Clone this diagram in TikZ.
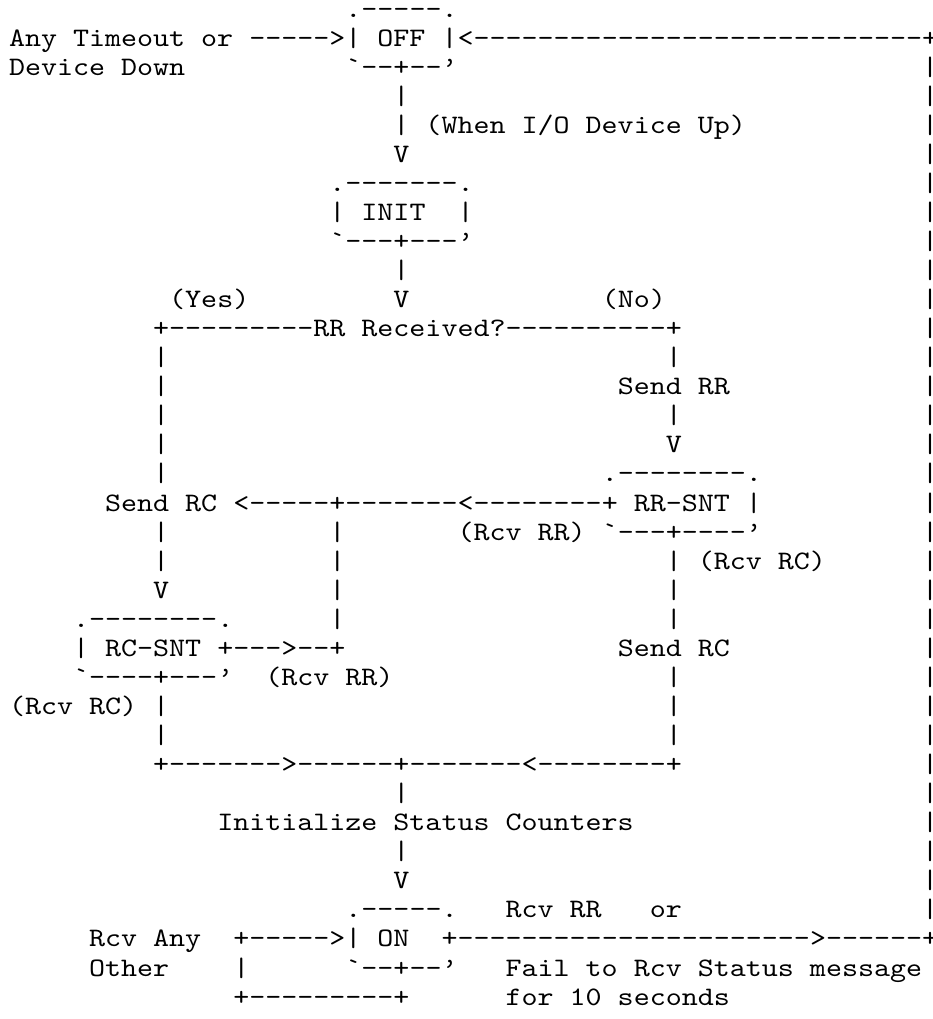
\documentclass[tikz,border=0pt]{standalone}
\usepackage{fontspec}
\usepackage{tikz}
\setmonofont{lmmono10-regular.otf}[FakeStretch=1.1443]

\begin{document}
\begin{tikzpicture}[x=12.015pt, y=-21.795pt,
  every node/.style={anchor=base west, inner sep=0pt, outer sep=0pt,
    font=\ttfamily\fontsize{20pt}{20pt}\selectfont}]
  \useasboundingbox (-0.5618,-0.585) rectangle (57.6155,34.48);
  % state OFF
  \node (offtop)   at (21,0)  {.-----.};
  \node (anytime)  at (0,1)   {Any Timeout or};
  \node (anyarrow) at (15,1)  {----->};
  \node (off)      at (21,1)  {| OFF |};
  \node (offret)   at (28,1)  {<{----------}{----------}{--------}+};
  \node (devdown)  at (0,2)   {Device Down};
  \node (offbot)   at (21,2)  {`--+--’};
  \node (offl1)    at (24,3)  {|};
  \node (offl2)    at (24,4)  {| (When I/O Device Up)};
  \node (offv)     at (24,5)  {V};
  % state INIT
  \node (inittop)  at (20,6)  {.-------.};
  \node (initl)    at (20,7)  {|};
  \node (init)     at (22,7)  {INIT};
  \node (initr)    at (28,7)  {|};
  \node (initbot)  at (20,8)  {`---+---’};
  \node (initl1)   at (24,9)  {|};
  \node (initv)    at (24,10) {V};
  \node (yes)      at (10,10) {(Yes)};
  \node (no)       at (37,10) {(No)};
  \node (rrq)      at (9,11)  {+---------RR Received?----------+};
  % branche Yes
  \node (y12)      at (9,12)  {|};
  \node (y13)      at (9,13)  {|};
  \node (y14)      at (9,14)  {|};
  \node (y15)      at (9,15)  {|};
  \node (y16)      at (9,16)  {|};
  \node (sendrc)   at (6,17)  {Send RC};
  \node (y18)      at (9,18)  {|};
  \node (y19)      at (9,19)  {|};
  \node (yv)       at (9,20)  {V};
  % branche No
  \node (n12)      at (41,12) {|};
  \node (sendrr)   at (38,13) {Send RR};
  \node (n14)      at (41,14) {|};
  \node (nv)       at (41,15) {V};
  % state RR-SNT
  \node (rrsnttop) at (37,16) {.--------.};
  \node (rrback)   at (14,17) {<-----+-------<--------+};
  \node (rrsnt)    at (39,17) {RR-SNT};
  \node (rrsntr)   at (46,17) {|};
  \node (rcvrr1)   at (28,18) {(Rcv RR)};
  \node (rrsntbot) at (37,18) {`---+----’};
  \node (n19)      at (41,19) {|};
  \node (rcvrc1)   at (43,19) {(Rcv RC)};
  \node (n20)      at (41,20) {|};
  \node (n21)      at (41,21) {|};
  \node (sendrc2)  at (38,22) {Send RC};
  \node (n23)      at (41,23) {|};
  \node (n24)      at (41,24) {|};
  \node (n25)      at (41,25) {|};
  % middle line
  \node (m18)      at (20,18) {|};
  \node (m19)      at (20,19) {|};
  \node (m20)      at (20,20) {|};
  \node (m21)      at (20,21) {|};
  % state RC-SNT
  \node (rcsnttop) at (4,21)  {.--------.};
  \node (rcsntl)   at (4,22)  {|};
  \node (rcsnt)    at (6,22)  {RC-SNT};
  \node (rcsntout) at (13,22) {+--->--+};
  \node (rcsntbot) at (4,23)  {`----+---’};
  \node (rcvrr2)   at (16,23) {(Rcv RR)};
  \node (rcvrc2)   at (0,24)  {(Rcv RC)};
  \node (y24)      at (9,24)  {|};
  \node (y25)      at (9,25)  {|};
  % join
  \node (join)     at (9,26)  {+------->------+-------<--------+};
  \node (j27)      at (24,27) {|};
  \node (initcnt)  at (13,28) {Initialize Status Counters};
  \node (j29)      at (24,29) {|};
  \node (jv)       at (24,30) {V};
  % state ON
  \node (ontop)    at (21,31) {.-----.};
  \node (rcvrr3)   at (31,31) {Rcv RR};
  \node (orlbl)    at (40,31) {or};
  \node (rcvany)   at (5,32)  {Rcv Any};
  \node (onin)     at (14,32) {+----->|};
  \node (on)       at (23,32) {ON};
  \node (onout)    at (27,32) {+{----------}{----------}{--}>{------}+};
  \node (other)    at (5,33)  {Other};
  \node (loop)     at (14,33) {|};
  \node (onbot)    at (21,33) {`--+--’};
  \node (fail)     at (31,33) {Fail to Rcv Status message};
  \node (loopbot)  at (14,34) {+---------+};
  \node (tensec)   at (31,34) {for 10 seconds};
  % retour vers OFF
  \foreach \r in {2,...,31}
    \node (ret\r) at (57,\r) {|};
\end{tikzpicture}
\end{document}
